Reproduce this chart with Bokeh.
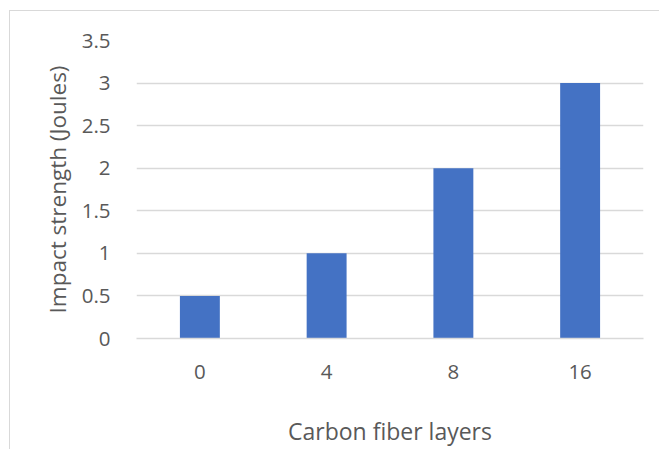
from bokeh.plotting import figure
from bokeh.models import FactorRange, Range1d, ColumnDataSource
from bokeh.embed import file_html
from bokeh.resources import INLINE

categories = ["0", "4", "8", "16"]
impact_strength = [0.5, 1.0, 2.0, 3.0]
y_ticks = [0, 0.5, 1, 1.5, 2, 2.5, 3, 3.5]
y_tick_labels = ["0", "0.5", "1", "1.5", "2", "2.5", "3", "3.5"]
x_title = "Carbon fiber layers"
y_title = "Impact strength (Joules)"

FONT = "Open Sans"
TXT = "#595959"
GRID = "#d9d9d9"

src = ColumnDataSource(dict(x=categories, y=impact_strength))

p = figure(
    x_range=FactorRange(*categories, range_padding=0),
    y_range=Range1d(0, 3.5),
    width=650, height=439,
    output_backend="svg", toolbar_location=None,
    min_border_left=126, min_border_right=17,
    min_border_top=29, min_border_bottom=112,
    margin=(10, 0, 0, 9),
    styles={"border-left": "1px solid #d9d9d9", "border-top": "1px solid #d9d9d9"},
)
p.outline_line_color = None
p.background_fill_color = "white"
p.border_fill_color = "white"

p.vbar(x="x", top="y", width=0.315, source=src, fill_color="#4472C4", line_color=None)

p.xgrid.grid_line_color = None
p.ygrid.grid_line_color = GRID
p.ygrid.grid_line_width = 1.3

p.yaxis.ticker = y_ticks
p.yaxis.major_label_overrides = {t: l for t, l in zip(y_ticks, y_tick_labels)}
p.yaxis.axis_line_color = None
p.yaxis.major_tick_line_color = None
p.yaxis.minor_tick_line_color = None
p.yaxis.major_label_standoff = 20
p.yaxis.major_label_text_font = FONT
p.yaxis.major_label_text_font_size = "20.5px"
p.yaxis.major_label_text_color = TXT
p.yaxis.axis_label = y_title
p.yaxis.axis_label_text_font = FONT
p.yaxis.axis_label_text_font_size = "22.5px"
p.yaxis.axis_label_text_font_style = "normal"
p.yaxis.axis_label_text_color = TXT
p.yaxis.axis_label_standoff = 6

p.xaxis.axis_line_color = GRID
p.xaxis.axis_line_width = 1.3
p.xaxis.major_tick_line_color = None
p.xaxis.minor_tick_line_color = None
p.xaxis.major_label_standoff = 20
p.xaxis.major_label_text_font = FONT
p.xaxis.major_label_text_font_size = "20.5px"
p.xaxis.major_label_text_color = TXT
p.xaxis.axis_label = x_title
p.xaxis.axis_label_text_font = FONT
p.xaxis.axis_label_text_font_size = "23px"
p.xaxis.axis_label_text_font_style = "normal"
p.xaxis.axis_label_text_color = TXT
p.xaxis.axis_label_standoff = 33

open("out.html", "w").write(file_html(p, INLINE))
